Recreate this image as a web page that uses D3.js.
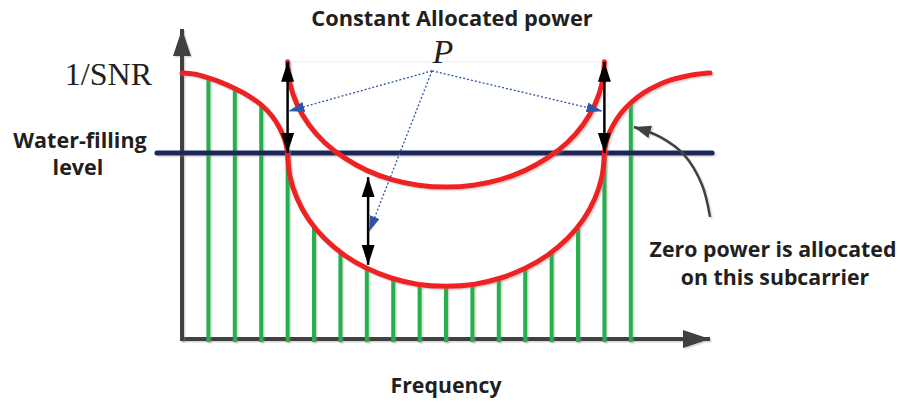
<!DOCTYPE html>
<html>
<head>
<meta charset="utf-8">
<script src="https://cdn.jsdelivr.net/npm/d3@7/dist/d3.min.js"></script>
<style>
  html, body { margin: 0; padding: 0; background: #ffffff; }
  svg { display: block; }
  .lbl { font-family: "Open Sans", Lato, sans-serif; font-weight: 700; fill: #231f20; }
  .serif { font-family: "Liberation Serif", "DejaVu Serif", serif; fill: #231f20; }
</style>
</head>
<body>
<svg id="chart" width="906" height="403"></svg>
<script>
// ---- data (frequency index, level) ----
const subcarriers = [1, 2, 3, 4, 5, 6, 7, 8, 9, 10, 11, 12, 13, 14, 15, 16, 17];
const channelLevel = [8.42, 8.08, 7.55, 6.0, 3.62, 2.80, 2.28, 1.95, 1.76, 1.70, 1.76, 1.95, 2.28, 2.80, 3.62, 6.0, 7.62];

const invSnrLeftX = [0, 0.5, 1, 1.5, 2, 2.5, 3, 3.4, 3.7, 3.9, 4];
const invSnrLeftY = [8.58, 8.54, 8.42, 8.27, 8.08, 7.85, 7.55, 7.2, 6.8, 6.4, 6.0];
const invSnrMidX = [4, 4.09, 4.36, 4.8, 5.4, 6.14, 7, 7.95, 8.96, 10, 11.04, 12.05, 13, 13.86, 14.6, 15.2, 15.64, 15.91, 16];
const invSnrMidY = [6.0, 5.25, 4.53, 3.85, 3.24, 2.71, 2.28, 1.96, 1.76, 1.70, 1.76, 1.96, 2.28, 2.71, 3.24, 3.85, 4.53, 5.25, 6.0];
const invSnrRightX = [16, 16.1, 16.3, 16.6, 17, 17.5, 18, 18.5, 19, 19.5, 20];
const invSnrRightY = [6.0, 6.45, 6.85, 7.25, 7.62, 7.95, 8.18, 8.35, 8.46, 8.54, 8.58];
const shiftedX = [4, 4.09, 4.36, 4.8, 5.4, 6.14, 7, 7.95, 8.96, 10, 11.04, 12.05, 13, 13.86, 14.6, 15.2, 15.64, 15.91, 16];
const shiftedY = [8.94, 8.24, 7.56, 6.92, 6.34, 5.85, 5.44, 5.14, 4.96, 4.90, 4.96, 5.14, 5.44, 5.85, 6.34, 6.92, 7.56, 8.24, 8.94];

const waterLevel = 6.0;
const powerArrowX = [4, 16, 7.05];
const powerArrowFrom = [6.0, 6.0, 2.39];
const powerArrowTo = [8.94, 8.94, 5.22];

const pAnchor = [9.47, 8.65];
const pTargetX = [4.03, 15.93, 7.08];
const pTargetY = [7.35, 7.35, 3.45];

const noteArrowX = [20, 19.7, 19.02, 18.11, 17.12];
const noteArrowY = [3.94, 4.97, 5.94, 6.52, 6.84];

// ---- scales ----
const W = 906, H = 403;
const svg = d3.select("#chart");
const x = d3.scaleLinear().domain([0, 20]).range([182, 710]);
const y = d3.scaleLinear().domain([0, 10]).range([339, 29]);

const defs = svg.append("defs");
const sh = defs.append("filter").attr("id", "shadow").attr("filterUnits", "userSpaceOnUse")
  .attr("x", -W).attr("y", -H).attr("width", 3 * W).attr("height", 3 * H);
sh.append("feDropShadow").attr("dx", 1.5).attr("dy", 1.5).attr("stdDeviation", 0.7)
  .attr("flood-color", "#888").attr("flood-opacity", 0.35);

function marker(id, color, len, wid, orient) {
  defs.append("marker").attr("id", id)
    .attr("markerUnits", "userSpaceOnUse")
    .attr("viewBox", `0 ${-wid / 2} ${len} ${wid}`)
    .attr("refX", len).attr("refY", 0)
    .attr("markerWidth", len).attr("markerHeight", wid)
    .attr("orient", orient)
    .append("path").attr("d", `M0,${-wid / 2}L${len},0L0,${wid / 2}Z`).attr("fill", color);
}
marker("axisHead", "#404040", 27, 18, "auto");
marker("blackHead", "#000000", 20, 13, "auto-start-reverse");
marker("blueHead", "#2f55a4", 16, 10, "auto");
marker("greyHead", "#404040", 17, 13, "auto");

// ---- axes ----
const gx = svg.append("g").attr("transform", `translate(0,${y(0)})`)
  .call(d3.axisBottom(x).tickValues([]).tickSizeOuter(0));
const gy = svg.append("g").attr("transform", `translate(${x(0)},0)`)
  .call(d3.axisLeft(y).tickValues([]).tickSizeOuter(0));
[gx, gy].forEach(g => g.select(".domain")
  .attr("stroke", "#404040").attr("stroke-width", 4)
  .attr("filter", "url(#shadow)").attr("marker-end", "url(#axisHead)"));
gx.select(".domain").attr("d", `M${x(0) - 2},0H${x(20)}`);
gy.select(".domain").attr("d", `M0,${y(0) + 2}V${y(10)}`);

// ---- subcarriers (green) ----
svg.append("g").attr("filter", "url(#shadow)")
  .selectAll("line").data(subcarriers).join("line")
  .attr("x1", d => x(d)).attr("x2", d => x(d))
  .attr("y1", y(-0.1)).attr("y2", (d, i) => y(channelLevel[i]))
  .attr("stroke", "#22b14c").attr("stroke-width", 4);

// ---- faint top line ----
svg.append("line").attr("x1", x(4.1)).attr("x2", x(15.9))
  .attr("y1", y(8.94)).attr("y2", y(8.94)).attr("stroke", "#ececec").attr("stroke-width", 1);

// ---- water level ----
svg.append("line")
  .attr("x1", x(-0.95)).attr("x2", x(20.08))
  .attr("y1", y(waterLevel)).attr("y2", y(waterLevel))
  .attr("stroke", "#1c2859").attr("stroke-width", 5).attr("stroke-linecap", "round")
  .attr("filter", "url(#shadow)");

// ---- red curves ----
const line = d3.line().x(d => x(d[0])).y(d => y(d[1])).curve(d3.curveCatmullRom.alpha(0.5));
const curves = [
  d3.zip(invSnrLeftX, invSnrLeftY),
  d3.zip(invSnrMidX, invSnrMidY),
  d3.zip(invSnrRightX, invSnrRightY),
  d3.zip(shiftedX, shiftedY)
];
svg.append("g").attr("filter", "url(#shadow)")
  .selectAll("path").data(curves).join("path")
  .attr("d", line).attr("fill", "none")
  .attr("stroke", "#ee2024").attr("stroke-width", 5).attr("stroke-linecap", "round");

// ---- black power arrows ----
svg.append("g").selectAll("line").data(powerArrowX).join("line")
  .attr("x1", d => x(d)).attr("x2", d => x(d))
  .attr("y1", (d, i) => y(powerArrowFrom[i])).attr("y2", (d, i) => y(powerArrowTo[i]))
  .attr("stroke", "#000").attr("stroke-width", 2.5)
  .attr("marker-start", "url(#blackHead)").attr("marker-end", "url(#blackHead)");

// ---- blue dotted pointers ----
svg.append("g").selectAll("line").data(pTargetX).join("line")
  .attr("x1", x(pAnchor[0])).attr("y1", y(pAnchor[1]))
  .attr("x2", d => x(d)).attr("y2", (d, i) => y(pTargetY[i]))
  .attr("stroke", "#2f55a4").attr("stroke-width", 1.3).attr("stroke-dasharray", "2,2")
  .attr("marker-end", "url(#blueHead)");

// ---- annotation arrow ----
svg.append("path")
  .attr("d", d3.line().x(d => x(d[0])).y(d => y(d[1])).curve(d3.curveCatmullRom.alpha(0.5))(d3.zip(noteArrowX, noteArrowY)))
  .attr("fill", "none").attr("stroke", "#404040").attr("stroke-width", 2.5)
  .attr("filter", "url(#shadow)").attr("marker-end", "url(#greyHead)");

// ---- texts ----
svg.append("text").attr("class", "lbl").attr("x", 452).attr("y", 26)
  .attr("text-anchor", "middle").attr("font-size", 21.8).text("Constant Allocated power");
svg.append("text").attr("class", "serif").attr("x", 443).attr("y", 63)
  .attr("text-anchor", "middle").attr("font-size", 34).attr("font-style", "italic").text("P");
svg.append("text").attr("class", "serif").attr("x", 152).attr("y", 85)
  .attr("text-anchor", "end").attr("font-size", 32).text("1/SNR");
const wf = svg.append("text").attr("class", "lbl").attr("text-anchor", "middle").attr("font-size", 21.5);
wf.append("tspan").attr("x", 80).attr("y", 148).text("Water-filling");
wf.append("tspan").attr("x", 78).attr("y", 175).text("level");
const zp = svg.append("text").attr("class", "lbl").attr("text-anchor", "middle").attr("font-size", 21.3);
zp.append("tspan").attr("x", 773).attr("y", 257).text("Zero power is allocated");
zp.append("tspan").attr("x", 775).attr("y", 285).text("on this subcarrier");
svg.append("text").attr("class", "lbl").attr("x", 446).attr("y", 393)
  .attr("text-anchor", "middle").attr("font-size", 21.3).text("Frequency");
</script>
</body>
</html>
